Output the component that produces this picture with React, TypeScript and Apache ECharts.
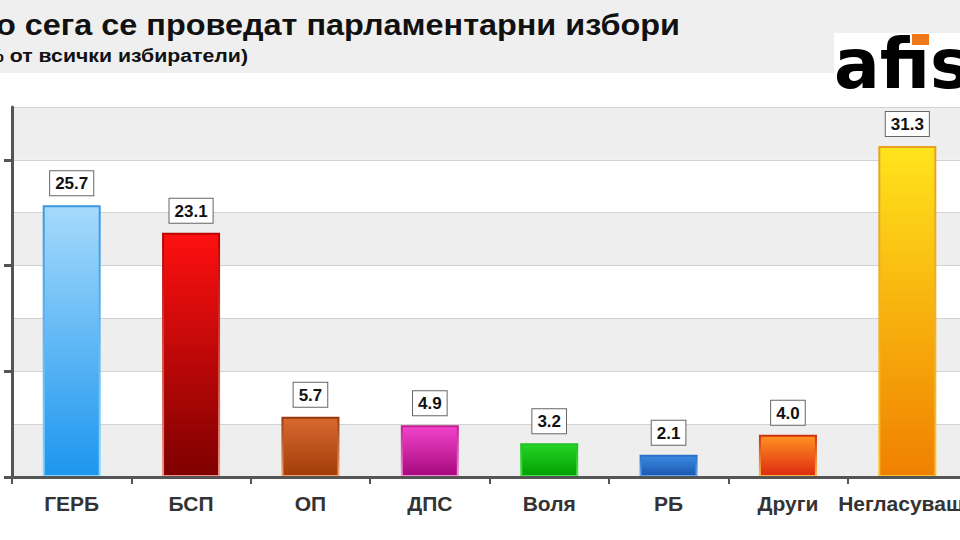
import React, { useEffect, useRef } from "react";
import * as echarts from "echarts";

const categories = ["ГЕРБ", "БСП", "ОП", "ДПС", "Воля", "РБ", "Други", "Негласуващи"];
const values = [25.7, 23.1, 5.7, 4.9, 3.2, 2.1, 4.0, 31.3];
const topColors = ["#a6dafc", "#ff1010", "#d86a30", "#f244cc", "#26d426", "#3c8ae2", "#ff9222", "#ffe41c"];
const bottomColors = ["#1c96ee", "#7e0000", "#a23c08", "#a6087c", "#00a000", "#1a58b0", "#de2a10", "#f08000"];
const borderTop = ["#3d96e0", "#b80000", "#98380e", "#c0208e", "#20c020", "#2c70c8", "#cc3010", "#e8a020"];
const borderBottom = ["#8cd8fc", "#f39080", "#f6a272", "#f292d8", "#50e050", "#6aa6ee", "#ffb848", "#f8c030"];
const yTicks = [0, 10, 20, 30];
const titleText = "Ако сега се проведат парламентарни избори";
const subtitleText = "(% от всички избиратели)";
const logoText = "afis";

function vgrad(a: string, b: string) {
  return new echarts.graphic.LinearGradient(0, 0, 0, 1, [
    { offset: 0, color: a },
    { offset: 1, color: b },
  ]);
}

export default function App() {
  const ref = useRef<HTMLDivElement>(null);
  useEffect(() => {
    if (!ref.current) return;
    const chart = echarts.init(ref.current, null, { renderer: "svg" });
    const option: any = {
      animation: false,
      backgroundColor: "#ffffff",
      grid: { left: 12, top: 107, width: 955, height: 370, containLabel: false, outerBoundsMode: "none" },
      xAxis: {
        type: "category",
        data: categories,
        axisLine: { lineStyle: { color: "#555555", width: 3 } },
        axisTick: { show: true, length: 7, lineStyle: { color: "#555555", width: 2 } },
        axisLabel: {
          interval: 0,
          margin: 16,
          fontSize: 21,
          fontWeight: "bold",
          color: "#333333",
          fontFamily: "Liberation Sans",
        },
        splitLine: { show: false },
        z: 5,
      },
      yAxis: [
        {
          type: "value",
          min: 0,
          max: 35,
          interval: 5,
          axisLine: { show: false },
          axisTick: { show: false },
          axisLabel: { show: false },
          splitLine: { show: true, lineStyle: { color: "#d2d2d2", width: 1 } },
          splitArea: { show: true, areaStyle: { color: ["#eeeeee", "#ffffff"] } },
        },
        {
          type: "value",
          position: "left",
          min: 0,
          max: 35,
          axisLine: { show: true, lineStyle: { color: "#555555", width: 3 } },
          axisTick: { show: true, length: 8, customValues: yTicks, lineStyle: { color: "#555555", width: 3 } },
          axisLabel: { show: false },
          splitLine: { show: false },
          splitArea: { show: false },
          z: 5,
        },
      ],
      series: [
        {
          type: "bar",
          yAxisIndex: 0,
          barWidth: 58,
          data: values.map((v, i) => ({
            value: v,
            itemStyle: {
              color: vgrad(topColors[i], bottomColors[i]),
              borderColor: vgrad(borderTop[i], borderBottom[i]),
              borderWidth: 2,
            },
          })),
          label: {
            show: true,
            position: "top",
            distance: 10,
            formatter: (p: any) => Number(p.value).toFixed(1),
            backgroundColor: "#ffffff",
            borderColor: "#666666",
            borderWidth: 1,
            padding: [4, 5, 3, 5],
            fontSize: 17,
            fontWeight: "bold",
            color: "#111111",
            fontFamily: "Liberation Sans",
          },
        },
      ],
      graphic: [
        { type: "rect", shape: { x: 0, y: 0, width: 960, height: 73 }, style: { fill: "#efefef" }, z: 0 },
        { type: "rect", shape: { x: 834, y: 33, width: 126, height: 45 }, style: { fill: "#ffffff" }, z: 1 },
        {
          type: "text",
          x: 680,
          y: 25,
          z: 2,
          scaleX: 1.08,
          style: {
            text: titleText,
            align: "right",
            verticalAlign: "middle",
            fontSize: 30,
            fontWeight: "bold",
            fontFamily: "Liberation Sans",
            fill: "#111111",
          },
        },
        {
          type: "text",
          x: 248,
          y: 55,
          z: 2,
          scaleX: 1.12,
          style: {
            text: subtitleText,
            align: "right",
            verticalAlign: "middle",
            fontSize: 19,
            fontWeight: "bold",
            fontFamily: "Liberation Sans",
            fill: "#111111",
          },
        },
        {
          type: "text",
          x: 834,
          y: 64,
          z: 2,
          scaleX: 0.97,
          style: { text: logoText, verticalAlign: "middle", fontSize: 70, fontWeight: "bold", fontFamily: "DejaVu Sans", fill: "#000000" },
        },
        { type: "rect", shape: { x: 912, y: 34, width: 17, height: 11 }, style: { fill: "#f07818" }, z: 3 },
      ],
    };
    chart.setOption(option);
    return () => chart.dispose();
  }, []);
  return (
    <div
      ref={ref}
      style={{ position: "fixed", left: 0, top: 0, width: 960, height: 540, background: "#ffffff" }}
    />
  );
}
